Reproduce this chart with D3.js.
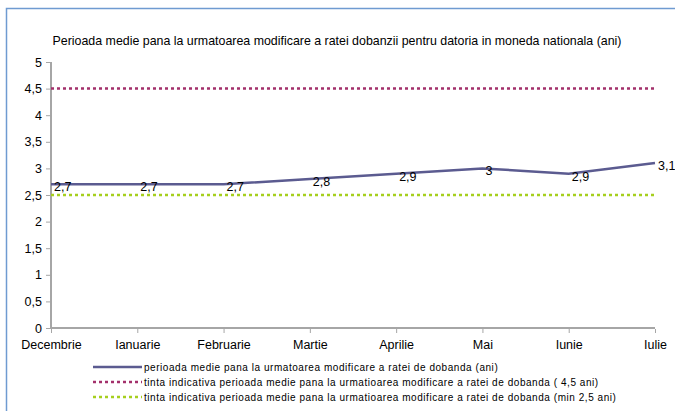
<!DOCTYPE html>
<html>
<head>
<meta charset="utf-8">
<script src="https://cdn.jsdelivr.net/npm/d3@7"></script>
<style>
  body { margin: 0; background: #fff; }
  text { font-family: "Liberation Sans", Arial, sans-serif; fill: #000; }
</style>
</head>
<body>
<div id="chart"></div>
<script>
const width = 675;
const height = 411;

// data
const months = ['Decembrie', 'Ianuarie', 'Februarie', 'Martie', 'Aprilie', 'Mai', 'Iunie', 'Iulie'];
const values = [2.7, 2.7, 2.7, 2.8, 2.9, 3.0, 2.9, 3.1];
const targetHigh = 4.5;
const targetLow = 2.5;
const yTicks = [0, 0.5, 1, 1.5, 2, 2.5, 3, 3.5, 4, 4.5, 5];
const legendLabels = [
  'perioada medie pana la urmatoarea modificare a ratei de dobanda (ani)',
  'tinta indicativa perioada medie pana la urmatioarea modificare a ratei de dobanda ( 4,5 ani)',
  'tinta indicativa perioada medie pana la urmatioarea modificare a ratei de dobanda (min 2,5 ani)'
];
const colors = ['#5b5b90', '#a3306b', '#a6cf1e'];

const svg = d3.select('#chart').append('svg')
  .attr('width', width)
  .attr('height', height);

// frame (only left and top edges visible)
svg.append('path')
  .attr('d', `M6.5,${height} V8.5 H${width}`)
  .attr('fill', 'none')
  .attr('stroke', '#6f9bd1')
  .attr('stroke-width', 1.5);

const fmt = v => String(v).replace('.', ',');

const x = d3.scalePoint().domain(months).range([51, 655]);
const y = d3.scaleLinear().domain([0, 5]).range([328, 62]);

// title
svg.append('text')
  .attr('x', 337)
  .attr('y', 45)
  .attr('text-anchor', 'middle')
  .style('font-size', '12.4px')
  .text('Perioada medie pana la urmatoarea modificare a ratei dobanzii pentru datoria in moneda nationala (ani)');

// axes
const yAxis = svg.append('g')
  .attr('transform', 'translate(51,0)')
  .call(d3.axisLeft(y).tickValues(yTicks).tickSize(5).tickPadding(4).tickFormat(fmt));
const xAxis = svg.append('g')
  .attr('transform', 'translate(0,328)')
  .call(d3.axisBottom(x).tickSize(5).tickPadding(7));

[yAxis, xAxis].forEach(g => {
  g.selectAll('.domain').attr('stroke', '#a6a6a6').attr('stroke-width', 2);
  g.selectAll('.tick line').attr('stroke', '#a6a6a6');
  g.selectAll('text').style('font-size', '12.5px').attr('font-family', null);
});
xAxis.select('.domain').attr('d', 'M51,0H655');
yAxis.select('.domain').attr('d', 'M0,62V328');
xAxis.selectAll('.tick line').attr('y1', 1);

// target lines
[targetHigh, targetLow].forEach((t, i) => {
  svg.append('line')
    .attr('x1', x(months[0]))
    .attr('x2', x(months[months.length - 1]))
    .attr('y1', y(t))
    .attr('y2', y(t))
    .attr('stroke', colors[i + 1])
    .attr('stroke-width', 2.5)
    .attr('stroke-dasharray', '3,3');
});

// main series
svg.append('path')
  .datum(values)
  .attr('fill', 'none')
  .attr('stroke', colors[0])
  .attr('stroke-width', 2.5)
  .attr('d', d3.line().x((d, i) => x(months[i])).y(d => y(d)));

svg.selectAll('.val').data(values)
  .enter().append('text')
  .attr('class', 'val')
  .attr('x', (d, i) => x(months[i]) + 3)
  .attr('y', d => y(d) + 7)
  .style('font-size', '12.5px')
  .text(fmt);

// legend (original text is spaced a bit wider)
const legend = svg.append('g');
legendLabels.forEach((lab, i) => {
  const ly = 367 + i * 15;
  legend.append('line')
    .attr('x1', 93).attr('x2', 142)
    .attr('y1', ly).attr('y2', ly)
    .attr('stroke', colors[i])
    .attr('stroke-width', 2.5)
    .attr('stroke-dasharray', i === 0 ? null : '3,3');
  legend.append('text')
    .attr('x', 144)
    .attr('y', ly + 3.5)
    .style('font-size', '10px')
    .style('letter-spacing', '0.55px')
    .text(lab);
});
</script>
</body>
</html>
